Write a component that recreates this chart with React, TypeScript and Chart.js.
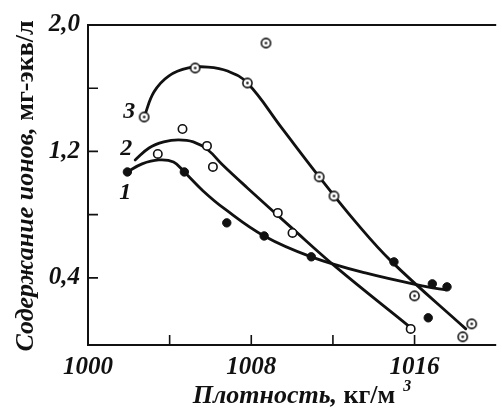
import React, { useEffect, useRef } from 'react';
import { Chart, registerables } from 'chart.js';
Chart.register(...registerables);

// Axis ticks
const xTicks = [1000, 1004, 1008, 1012, 1016];
const xLabeled = [1000, 1008, 1016];
const yTicks = [0.4, 0.8, 1.2, 1.6, 2.0];
const yLabeled = [0.4, 1.2, 2.0];

// Measured points: series 1 (filled), 2 (open), 3 (dotted circle)
const s1X = [1001.93, 1004.72, 1006.8, 1008.63, 1010.94, 1014.99, 1016.87, 1017.59, 1016.67];
const s1Y = [1.07, 1.07, 0.748, 0.665, 0.533, 0.501, 0.362, 0.343, 0.147];
const s2X = [1003.42, 1004.63, 1005.83, 1006.12, 1009.3, 1010.02, 1015.81];
const s2Y = [1.184, 1.342, 1.235, 1.102, 0.811, 0.684, 0.077];
const s3X = [1002.75, 1005.25, 1007.81, 1008.72, 1011.33, 1012.05, 1016.0, 1018.8, 1018.36];
const s3Y = [1.418, 1.728, 1.633, 1.886, 1.039, 0.918, 0.286, 0.109, 0.027];

// Fitted curves
const c1X = [1001.93, 1002.65, 1003.47, 1004.19, 1004.72, 1005.64, 1006.7, 1008.63, 1010.94, 1013.59, 1016.63, 1017.54];
const c1Y = [1.07, 1.121, 1.146, 1.133, 1.07, 0.95, 0.836, 0.665, 0.533, 0.431, 0.343, 0.324];
const c2X = [1002.31, 1002.99, 1003.71, 1004.43, 1005.16, 1005.88, 1006.6, 1007.81, 1009.98, 1012.14, 1015.76];
const c2Y = [1.146, 1.222, 1.26, 1.273, 1.26, 1.209, 1.114, 0.969, 0.716, 0.469, 0.09];
const c3X = [1002.75, 1003.23, 1003.95, 1004.92, 1005.88, 1006.84, 1007.81, 1009.49, 1011.33, 1013.11, 1014.89, 1018.51];
const c3Y = [1.418, 1.576, 1.677, 1.728, 1.734, 1.709, 1.633, 1.349, 1.039, 0.754, 0.501, 0.077];

// Curve labels
const curveLabels = ['1', '2', '3'];
const curveLabelX = [1001.83, 1001.88, 1002.02];
const curveLabelY = [0.937, 1.216, 1.45];

const FONT = "'Liberation Serif', 'Times New Roman', serif";
const INK = '#111111';

const pts = (xs: number[], ys: number[]) => xs.map((x, i) => ({ x, y: ys[i] }));

function dotCircle(): HTMLCanvasElement {
  const c = document.createElement('canvas');
  c.width = 13;
  c.height = 13;
  const g = c.getContext('2d')!;
  g.beginPath();
  g.arc(6.5, 6.5, 4.6, 0, Math.PI * 2);
  g.fillStyle = '#ffffff';
  g.fill();
  g.lineWidth = 1.6;
  g.strokeStyle = INK;
  g.stroke();
  g.beginPath();
  g.arc(6.5, 6.5, 1.3, 0, Math.PI * 2);
  g.fillStyle = INK;
  g.fill();
  return c;
}

const decor = {
  id: 'decor',
  afterDraw(chart: any) {
    const ctx = chart.ctx as CanvasRenderingContext2D;
    const { left, right, top, bottom } = chart.chartArea;
    const xs = chart.scales.x;
    const ys = chart.scales.y;
    ctx.save();
    ctx.strokeStyle = INK;
    ctx.lineWidth = 2;
    ctx.beginPath();
    ctx.moveTo(right, top);
    ctx.lineTo(left, top);
    ctx.lineTo(left, bottom);
    ctx.lineTo(right, bottom);
    ctx.stroke();
    ctx.lineWidth = 1.6;
    ctx.beginPath();
    for (const v of yTicks) {
      if (v >= 2) continue;
      const y = ys.getPixelForValue(v);
      ctx.moveTo(left, y);
      ctx.lineTo(left + 10, y);
    }
    for (const v of xTicks) {
      if (v <= 1000) continue;
      const x = xs.getPixelForValue(v);
      ctx.moveTo(x, bottom);
      ctx.lineTo(x, bottom - 10);
    }
    ctx.stroke();

    // curve labels
    ctx.fillStyle = INK;
    ctx.font = `italic bold 24px ${FONT}`;
    ctx.textAlign = 'center';
    ctx.textBaseline = 'middle';
    curveLabels.forEach((t, i) => {
      ctx.fillText(t, xs.getPixelForValue(curveLabelX[i]), ys.getPixelForValue(curveLabelY[i]));
    });

    // x title
    const fI = `italic bold 26px ${FONT}`;
    const fB = `bold 26px ${FONT}`;
    const fS = `italic bold 16px ${FONT}`;
    const p1 = 'Плотность, ';
    const p2 = 'кг/м';
    const p3 = '3';
    ctx.textAlign = 'left';
    ctx.textBaseline = 'alphabetic';
    ctx.font = fI; const w1 = ctx.measureText(p1).width;
    ctx.font = fB; const w2 = ctx.measureText(p2).width;
    ctx.font = fS; const w3 = ctx.measureText(p3).width;
    const total = w1 + w2 + 8 + w3;
    let x0 = 302 - total / 2;
    const by = 403;
    ctx.font = fI; ctx.fillText(p1, x0, by); x0 += w1;
    ctx.font = fB; ctx.fillText(p2, x0, by); x0 += w2 + 8;
    ctx.font = fS; ctx.fillText(p3, x0, by - 12);

    // y title
    const q1 = 'Содержание ионов, ';
    const q2 = 'мг-экв/л';
    ctx.font = fI; const v1 = ctx.measureText(q1).width;
    ctx.font = fB; const v2 = ctx.measureText(q2).width;
    ctx.translate(33, 186);
    ctx.rotate(-Math.PI / 2);
    let s0 = -(v1 + v2) / 2;
    ctx.font = fI; ctx.fillText(q1, s0, 0); s0 += v1;
    ctx.font = fB; ctx.fillText(q2, s0, 0);
    ctx.restore();
  },
};

export default function App() {
  const ref = useRef<HTMLCanvasElement | null>(null);
  useEffect(() => {
    if (!ref.current) return;
    const tickFont = { family: FONT, size: 25, style: 'italic' as const, weight: 'bold' as const };
    const curve = { borderColor: INK, borderWidth: 2.8, pointRadius: 0, tension: 0.4, borderCapStyle: 'round', borderJoinStyle: 'round', order: 1 };
    const chart = new Chart(ref.current, {
      type: 'line',
      data: {
        datasets: [
          { data: pts(s1X, s1Y), showLine: false, pointRadius: 4.2, pointBackgroundColor: INK, pointBorderColor: INK, pointBorderWidth: 1, order: 0 } as any,
          { data: pts(s2X, s2Y), showLine: false, pointRadius: 4.2, pointBackgroundColor: '#ffffff', pointBorderColor: INK, pointBorderWidth: 1.6, order: 0 } as any,
          { data: pts(s3X, s3Y), showLine: false, pointStyle: dotCircle(), order: 0 } as any,
          { data: pts(c1X, c1Y), ...curve } as any,
          { data: pts(c2X, c2Y), ...curve } as any,
          { data: pts(c3X, c3Y), ...curve } as any,
        ],
      },
      options: {
        animation: false,
        responsive: false,
        devicePixelRatio: 1,
        layout: { padding: { top: 25, right: 0, left: 0, bottom: 0 } },
        plugins: { legend: { display: false }, tooltip: { enabled: false } },
        scales: {
          x: {
            type: 'linear',
            min: 1000,
            max: 1020,
            grid: { display: false, drawTicks: false },
            border: { display: false },
            afterBuildTicks: (s: any) => { s.ticks = xTicks.map((v) => ({ value: v })); },
            afterFit: (s: any) => { s.height = 67; },
            ticks: {
              autoSkip: false,
              maxRotation: 0,
              padding: 8,
              color: INK,
              font: tickFont,
              callback: (v: any) => (xLabeled.includes(Number(v)) ? String(v) : ''),
            },
          },
          y: {
            type: 'linear',
            min: -0.025,
            max: 2.0,
            grid: { display: false, drawTicks: false },
            border: { display: false },
            afterBuildTicks: (s: any) => { s.ticks = yTicks.map((v) => ({ value: v })); },
            afterFit: (s: any) => { s.width = 88; },
            ticks: {
              autoSkip: false,
              padding: 8,
              color: INK,
              font: tickFont,
              callback: (v: any) => (yLabeled.some((l) => Math.abs(l - Number(v)) < 1e-6) ? Number(v).toFixed(1).replace('.', ',') : ''),
            },
          },
        },
      } as any,
      plugins: [decor],
    });
    return () => chart.destroy();
  }, []);
  return (
    <canvas
      ref={ref}
      width={502}
      height={412}
      style={{ position: 'absolute', left: 0, top: 0, width: 502, height: 412, background: '#fff' }}
    />
  );
}
